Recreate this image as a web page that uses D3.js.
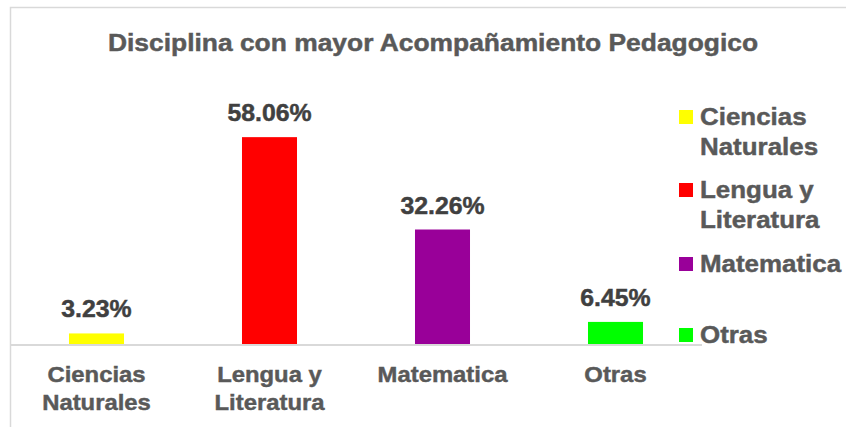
<!DOCTYPE html>
<html>
<head>
<meta charset="utf-8">
<script src="https://cdn.jsdelivr.net/npm/d3@7"></script>
<style>
  html, body { margin: 0; padding: 0; background: #fff; }
  svg { display: block; font-family: "Liberation Sans", Arial, sans-serif; }
</style>
</head>
<body>
<svg id="chart"></svg>
<script>
// Data
const categories = ["Ciencias Naturales", "Lengua y Literatura", "Matematica", "Otras"];
const axisLines = [["Ciencias", "Naturales"], ["Lengua y", "Literatura"], ["Matematica"], ["Otras"]];
const values = [3.23, 58.06, 32.26, 6.45];
const colors = ["#ffff00", "#ff0000", "#990099", "#00ff00"];
const title = "Disciplina con mayor Acompañamiento Pedagogico";

const width = 846, height = 427;
const baseY = 345;

const svg = d3.select("#chart")
    .attr("width", width)
    .attr("height", height);

// frame (chart area border, cropped)
svg.append("path")
    .attr("d", `M10.5,${height} V7.5 H${width}`)
    .attr("fill", "none")
    .attr("stroke", "#d9d9d9")
    .attr("stroke-width", 1.5);

const x = d3.scaleBand()
    .domain(categories)
    .range([10, 702])
    .paddingInner(0.682)
    .paddingOuter(0.341);

const y = d3.scaleLinear()
    .domain([0, 60])
    .range([baseY, baseY - 60 * 3.58]);

// helper for slightly wide text
function label(g, tx, ty, txt, size, sx, fill, anchor) {
    return g.append("text")
        .attr("transform", `translate(${tx},${ty}) scale(${sx},1)`)
        .attr("text-anchor", anchor || "middle")
        .attr("font-size", size)
        .attr("font-weight", "bold")
        .attr("fill", fill)
        .attr("stroke", fill)
        .attr("stroke-width", 0.45)
        .text(txt);
}

// title
label(svg, 433, 51, title, 24, 1.1, "#595959");

// bars
svg.append("g")
    .selectAll("rect")
    .data(values)
    .enter().append("rect")
    .attr("x", (d, i) => x(categories[i]))
    .attr("y", d => y(d))
    .attr("width", x.bandwidth())
    .attr("height", d => baseY - y(d))
    .attr("fill", (d, i) => colors[i]);

// axis line
svg.append("line")
    .attr("x1", 10).attr("x2", 702)
    .attr("y1", baseY).attr("y2", baseY)
    .attr("stroke", "#d9d9d9")
    .attr("stroke-width", 2);

// data labels
const lab = svg.append("g");
values.forEach((v, i) => {
    label(lab, x(categories[i]) + x.bandwidth() / 2, y(v) - 16, v.toFixed(2) + "%", 23, 1.08, "#404040");
});

// category labels
const ax = svg.append("g");
categories.forEach((c, i) => {
    axisLines[i].forEach((ln, j) => {
        label(ax, x(c) + x.bandwidth() / 2, 382 + j * 28, ln, 22.5, 1.06, "#595959");
    });
});

// legend
const legendY = [125, 198, 272, 343];
const leg = svg.append("g");
categories.forEach((c, i) => {
    leg.append("rect")
        .attr("x", 679)
        .attr("y", legendY[i] - 15)
        .attr("width", 14)
        .attr("height", 14)
        .attr("fill", colors[i]);
    axisLines[i].forEach((ln, j) => {
        label(leg, 700, legendY[i] + j * 30, ln, 24, 1.08, "#595959", "start");
    });
});
</script>
</body>
</html>
